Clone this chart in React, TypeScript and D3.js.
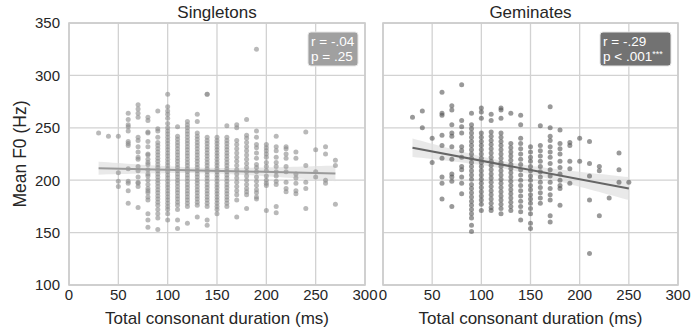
import React, { useEffect, useRef } from "react";
import * as d3 from "d3";

const singletonDurations = [30, 40, 50, 60, 70, 80, 90, 100, 110, 120, 130, 140, 150, 160, 170, 180, 190, 200, 210, 220, 230, 240, 250, 260, 270];
const singletonF0 = [
  [245],
  [242],
  [242, 207, 199, 194],
  [264, 258, 253, 251, 247, 237, 235, 233, 211, 199, 197, 190, 178],
  [272, 268, 264, 260, 241, 238, 232, 227, 222, 220, 213, 209, 203, 198, 197, 194, 174],
  [260, 257, 246, 245, 237, 232, 225, 224, 220, 217, 215, 210, 206, 204, 200, 196, 192, 190, 188, 184, 181, 168, 162, 155],
  [266, 249, 247, 241, 236, 233, 230, 227, 224, 221, 218, 215, 212, 209, 206, 203, 200, 197, 194, 191, 188, 185, 182, 179, 176, 172, 168, 164, 153],
  [282, 270, 266, 263, 259, 254, 250, 247, 244, 241, 238, 235, 232, 229, 226, 223, 220, 217, 214, 211, 208, 205, 202, 199, 196, 193, 190, 187, 184, 181, 178, 175, 172, 168, 162],
  [251, 242, 239, 236, 233, 230, 227, 224, 221, 218, 215, 212, 209, 206, 203, 200, 197, 194, 191, 188, 185, 182, 179, 176, 172, 162, 154],
  [256, 253, 250, 247, 244, 241, 238, 235, 232, 229, 226, 223, 220, 217, 214, 211, 208, 205, 202, 199, 196, 193, 190, 187, 184, 181, 178, 175, 159],
  [263, 256, 245, 242, 239, 236, 233, 230, 227, 224, 221, 218, 215, 212, 209, 206, 203, 200, 197, 194, 191, 188, 185, 182, 179, 176, 165],
  [282, 282, 241, 238, 235, 232, 229, 226, 223, 220, 217, 214, 211, 208, 205, 202, 199, 196, 193, 190, 187, 184, 181, 178, 175, 162, 157],
  [241, 238, 235, 232, 229, 226, 223, 220, 217, 214, 211, 208, 205, 202, 199, 196, 193, 190, 187, 184, 181, 178, 175, 172, 168],
  [252, 241, 238, 235, 232, 229, 226, 223, 220, 217, 214, 211, 208, 205, 202, 199, 196, 193, 190, 187, 184, 181, 178, 175],
  [253, 250, 238, 234, 230, 226, 222, 218, 214, 210, 206, 202, 198, 194, 190, 186, 181, 165],
  [258, 243, 240, 236, 232, 228, 224, 220, 216, 212, 208, 204, 200, 196, 192, 189, 186, 173],
  [325, 247, 241, 234, 231, 226, 221, 215, 212, 208, 203, 199, 195, 191, 188, 184, 182],
  [234, 231, 228, 225, 222, 217, 213, 209, 204, 200, 197, 195, 171],
  [242, 232, 228, 222, 217, 213, 208, 204, 199, 196, 175, 169],
  [232, 230, 225, 221, 213, 208, 198, 192, 189],
  [227, 221, 206, 202, 197, 190, 187],
  [246, 214, 198, 192, 173],
  [229, 208, 203],
  [232, 225, 200, 197],
  [219, 214, 177],
];

const geminateDurations = [30, 40, 50, 60, 70, 80, 90, 100, 110, 120, 130, 140, 150, 160, 170, 180, 190, 200, 210, 220, 230, 240, 250];
const geminateF0 = [
  [260],
  [266, 250],
  [240, 217],
  [284, 264, 262, 243, 233, 221, 203, 197, 182],
  [271, 267, 253, 245, 242, 232, 220, 206, 203, 199, 175],
  [291, 257, 251, 245, 232, 228, 222, 213, 210, 203, 197, 187],
  [264, 253, 249, 245, 241, 237, 233, 229, 225, 221, 217, 213, 209, 205, 201, 196, 192, 188, 184, 180, 176, 172, 168, 164, 157, 151],
  [269, 265, 259, 245, 241, 237, 233, 229, 225, 221, 217, 213, 209, 205, 201, 197, 193, 189, 185, 181, 177, 171],
  [263, 257, 246, 242, 238, 234, 230, 226, 222, 218, 214, 210, 206, 202, 198, 194, 190, 186, 182, 178, 174, 171],
  [269, 267, 259, 245, 241, 237, 233, 229, 225, 221, 217, 213, 209, 205, 201, 197, 193, 189, 185, 181, 177, 173, 168],
  [264, 235, 231, 227, 223, 219, 215, 211, 207, 203, 199, 195, 191, 187, 183, 179, 175, 171],
  [262, 253, 240, 235, 230, 225, 220, 215, 210, 205, 200, 195, 190, 185, 180, 175, 170, 162],
  [232, 227, 222, 218, 213, 209, 204, 200, 195, 191, 186, 182, 178, 173, 168, 159, 154],
  [252, 233, 228, 223, 218, 213, 208, 203, 198, 193, 188, 183, 178],
  [270, 250, 242, 238, 232, 227, 222, 216, 210, 204, 198, 192, 186, 181, 166, 160],
  [248, 235, 230, 225, 218, 212, 206, 200, 195, 192, 176],
  [236, 233, 218, 211, 197],
  [240, 218],
  [237, 216, 204, 181, 130],
  [213, 209, 166],
  [183],
  [226, 210, 198],
  [198],
];

// fitted line: F0 at the first and last duration of each panel
const singletonFit = [211.5, 206.5];
const geminateFit = [231, 192];

const xTicks = [0, 50, 100, 150, 200, 250, 300];
const yTicks = [100, 150, 200, 250, 300, 350];
const panelTitles = ["Singletons", "Geminates"];
const statLines = [
  ["r = -.04", "p = .25"],
  ["r = -.29", "p < .001"],
];

const FONT = "'Liberation Sans', Arial, sans-serif";
const INK = "#262626";

const App = () => {
  const ref = useRef<SVGSVGElement>(null);

  useEffect(() => {
    const svg = d3.select(ref.current);
    svg.selectAll("*").remove();

    const top = 23;
    const bottom = 285;
    const panels = [
      { left: 69, right: 365, durs: singletonDurations, f0: singletonF0, fit: singletonFit, dot: "#8a8a8a", line: "#9a9a9a", box: "#a0a0a0", bw: 50, stars: "" },
      { left: 383, right: 678, durs: geminateDurations, f0: geminateF0, fit: geminateFit, dot: "#555", line: "#666", box: "#727272", bw: 71, stars: "***" },
    ];

    const y = d3.scaleLinear().domain([100, 350]).range([bottom, top]);

    panels.forEach((p, i) => {
      const x = d3.scaleLinear().domain([0, 300]).range([p.left, p.right]);
      const pts: [number, number][] = [];
      p.durs.forEach((d, j) => p.f0[j].forEach((v) => pts.push([d, v])));

      const g = svg.append("g");

      // grid
      g.selectAll(".gx")
        .data(xTicks)
        .enter()
        .append("line")
        .attr("x1", (d) => x(d))
        .attr("x2", (d) => x(d))
        .attr("y1", top)
        .attr("y2", bottom)
        .attr("stroke", "#d2d2d2")
        .attr("stroke-width", 1.3);
      g.selectAll(".gy")
        .data(yTicks)
        .enter()
        .append("line")
        .attr("x1", p.left)
        .attr("x2", p.right)
        .attr("y1", (d) => y(d))
        .attr("y2", (d) => y(d))
        .attr("stroke", "#d2d2d2")
        .attr("stroke-width", 1.3);

      g.append("rect")
        .attr("x", p.left)
        .attr("y", top)
        .attr("width", p.right - p.left)
        .attr("height", bottom - top)
        .attr("fill", "none")
        .attr("stroke", "#cccccc")
        .attr("stroke-width", 1.6);

      // fitted line with 95% band from the residual spread
      const [x0, x1] = d3.extent(pts, (d) => d[0]) as [number, number];
      const b = (p.fit[1] - p.fit[0]) / (x1 - x0);
      const a = p.fit[0] - b * x0;
      const n = pts.length;
      const mx = d3.mean(pts, (d) => d[0]) as number;
      const sxx = d3.sum(pts, (d) => (d[0] - mx) ** 2);
      const sse = d3.sum(pts, (d) => (d[1] - a - b * d[0]) ** 2);
      const s = Math.sqrt(sse / (n - 2));
      const grid = d3.range(x0, x1 + 0.01, (x1 - x0) / 50);
      const band = grid.map((gx) => {
        const se = s * Math.sqrt(1 / n + (gx - mx) ** 2 / sxx);
        const fit = a + b * gx;
        return { gx, lo: fit - 1.96 * se, hi: fit + 1.96 * se };
      });

      g.append("path")
        .datum(band)
        .attr("fill", "#e0e0e0")
        .attr("opacity", 0.7)
        .attr(
          "d",
          d3
            .area<{ gx: number; lo: number; hi: number }>()
            .x((d) => x(d.gx))
            .y0((d) => y(d.lo))
            .y1((d) => y(d.hi))
        );

      g.selectAll(".dot")
        .data(pts)
        .enter()
        .append("circle")
        .attr("cx", (d) => x(d[0]))
        .attr("cy", (d) => y(d[1]))
        .attr("r", 2.5)
        .attr("fill", p.dot)
        .attr("fill-opacity", 0.6);

      g.append("line")
        .attr("x1", x(x0))
        .attr("x2", x(x1))
        .attr("y1", y(a + b * x0))
        .attr("y2", y(a + b * x1))
        .attr("stroke", p.line)
        .attr("stroke-width", 2);

      // tick labels
      g.selectAll(".xt")
        .data(xTicks)
        .enter()
        .append("text")
        .attr("x", (d) => x(d))
        .attr("y", 300)
        .attr("text-anchor", "middle")
        .attr("fill", INK)
        .style("font-family", FONT)
        .style("font-size", "15px")
        .text((d) => d);

      if (i === 0) {
        g.selectAll(".yt")
          .data(yTicks)
          .enter()
          .append("text")
          .attr("x", p.left - 9)
          .attr("y", (d) => y(d) + 5.4)
          .attr("text-anchor", "end")
          .attr("fill", INK)
          .style("font-family", FONT)
          .style("font-size", "15px")
          .text((d) => d);

        g.append("text")
          .attr("transform", "translate(26," + (top + bottom) / 2 + ") rotate(-90)")
          .attr("text-anchor", "middle")
          .attr("fill", INK)
          .style("font-family", FONT)
          .style("font-size", "17.5px")
          .text("Mean F0 (Hz)");
      }

      g.append("text")
        .attr("x", (p.left + p.right) / 2)
        .attr("y", 324)
        .attr("text-anchor", "middle")
        .attr("fill", INK)
        .style("font-family", FONT)
        .style("font-size", "17px")
        .text("Total consonant duration (ms)");

      g.append("text")
        .attr("x", (p.left + p.right) / 2)
        .attr("y", 18)
        .attr("text-anchor", "middle")
        .attr("fill", INK)
        .style("font-family", FONT)
        .style("font-size", "17px")
        .text(panelTitles[i]);

      // stats box
      const lines = statLines[i];
      const bx = p.right - 7 - p.bw;
      g.append("rect")
        .attr("x", bx)
        .attr("y", 32)
        .attr("width", p.bw)
        .attr("height", 34)
        .attr("rx", 3)
        .attr("fill", p.box)
        .attr("stroke", "#e6e6e6")
        .attr("stroke-width", 1);
      lines.forEach((t, k) => {
        const txt = g
          .append("text")
          .attr("x", bx + 3)
          .attr("y", 46 + k * 15)
          .attr("fill", "#ffffff")
          .style("font-family", FONT)
          .style("font-size", "13.5px")
          .text(t);
        if (k === 1 && p.stars) {
          txt
            .append("tspan")
            .attr("dy", -4)
            .style("font-size", "9px")
            .text(p.stars);
        }
      });
    });
  }, []);

  return (
    <svg
      ref={ref}
      width={691}
      height={334}
      style={{ position: "absolute", left: 0, top: 0, background: "#fff" }}
    />
  );
};

export default App;
